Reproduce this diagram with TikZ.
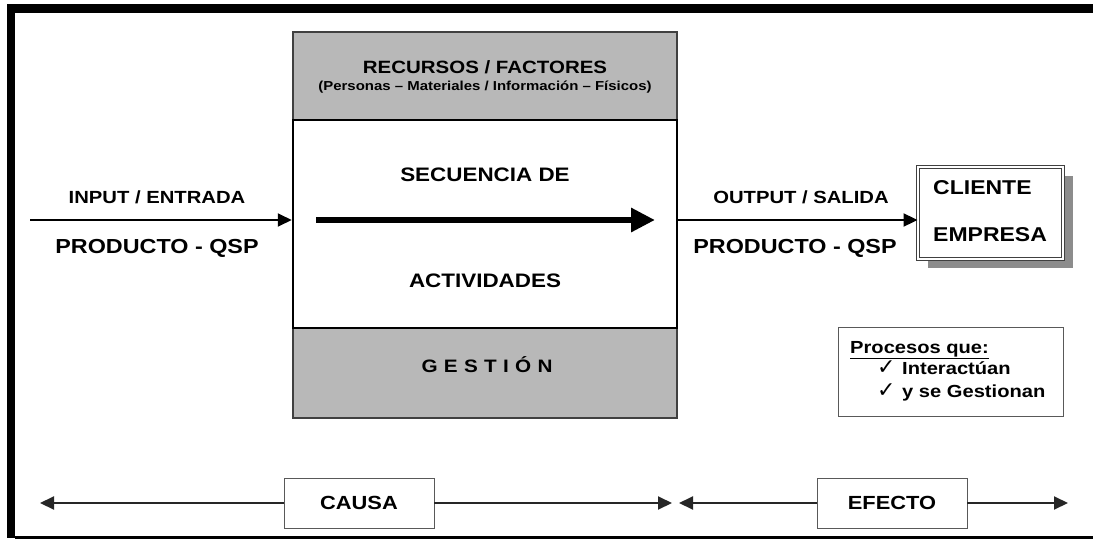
\documentclass[tikz,border=0pt]{standalone}
\usepackage{fontspec}
\setmainfont{Liberation Sans}[FakeStretch=1.15]
\newfontfamily\simbolos{DejaVu Sans}
\usetikzlibrary{arrows.meta,shadows,positioning}

\begin{document}
\begin{tikzpicture}[x=1pt,y=-1pt]
	\tikzstyle{gris}=[draw=black!75, fill=black!28, line width=1.2pt, minimum width=384pt, inner sep=0pt]
	\tikzstyle{blanca}=[draw=black, fill=white, line width=2.5pt, minimum width=384pt, minimum height=208pt, inner sep=0pt]
	\tikzstyle{caja}=[draw=black!65, fill=white, line width=0.8pt, inner sep=0pt]
	\tikzstyle{tx}=[font=\fontsize{19.5}{22}\selectfont\bfseries, inner sep=0pt]
	\tikzstyle{ck}=[font=\fontsize{22}{24}\selectfont\simbolos, inner sep=0pt, anchor=base west]
	\tikzstyle{flecha}=[line width=2pt, -{Triangle[length=14pt,width=13pt]}]
	\tikzstyle{flechita}=[line width=2pt, draw=black!85, -{Triangle[length=14pt,width=13pt]}]

	\useasboundingbox (0,0) rectangle (1093,541);
	% marco
	\fill (7,4) rectangle (1093,13);
	\fill (7,4) rectangle (15,538);
	\fill (15,536) rectangle (1093,538.5);

	% bloque central
	\node[gris, minimum height=88pt] (rec) at (485,76) {};
	\node[gris, minimum height=90pt] (ges) at (485,373) {};
	\node[blanca] (sec) at (485,224) {};
	\node[tx, font=\fontsize{17.8}{20}\selectfont\bfseries] (recT) at (485,67) {RECURSOS / FACTORES};
	\node[tx, font=\fontsize{13}{15}\selectfont\bfseries] (recS) at (485,87) {(Personas – Materiales / Información – Físicos)};
	\node[tx] (secT) at (485,175) {SECUENCIA DE};
	\node[tx] (actT) at (485,281) {ACTIVIDADES};
	\node[tx, font=\fontsize{18}{20}\selectfont\bfseries\addfontfeature{LetterSpace=35}] (gesT) at (487,365) {GESTIÓN};
	\coordinate (a1) at (316,220);
	\coordinate (a2) at (655,220);
	\draw[line width=6pt, -{Triangle[length=24pt,width=23pt]}] (a1) -- (a2);

	% entrada
	\coordinate (inp) at (30,220);
	\node[tx, font=\fontsize{17.6}{20}\selectfont\bfseries] (inT) at (157,197) {INPUT / ENTRADA};
	\node[tx, font=\fontsize{20.3}{22}\selectfont\bfseries] (inP) at (157,248) {PRODUCTO - QSP};

	% salida
	\node[draw=black!75, fill=white, double, double distance=2.5pt, line width=0.9pt,
		minimum width=145pt, minimum height=92pt,
		drop shadow={shadow xshift=10pt, shadow yshift=-9pt, fill=black!45, opacity=1}] (cli) at (990.5,213) {};
	\node[tx, font=\fontsize{20}{22}\selectfont\bfseries, anchor=west] (cliT) at (933,188) {CLIENTE};
	\node[tx, font=\fontsize{20}{22}\selectfont\bfseries, anchor=west] (empT) at (933,235) {EMPRESA};
	\coordinate (outp) at (677,220);
	\node[tx, font=\fontsize{17.6}{20}\selectfont\bfseries] (outT) at (801,197) {OUTPUT / SALIDA};
	\node[tx, font=\fontsize{20.3}{22}\selectfont\bfseries] (outP) at (795,248) {PRODUCTO - QSP};

	\foreach \from/\to in {inp/inp -| sec.west, outp/outp -| cli.west}
		\draw[flecha] (\from) -- (\to);

	% procesos
	\node[caja, minimum width=225pt, minimum height=89pt] (proc) at (950.5,371.5) {};
	\node[tx, font=\fontsize{17.5}{20}\selectfont\bfseries, anchor=base west] (procT) at (850,353) {\underline{Procesos que:}};
	\node[ck] (ck1) at (877,374) {✓};
	\node[tx, font=\fontsize{17.5}{20}\selectfont\bfseries, anchor=base west] (it1) at (902,374) {Interactúan};
	\node[ck] (ck2) at (877,397) {✓};
	\node[tx, font=\fontsize{17.5}{20}\selectfont\bfseries, anchor=base west] (it2) at (902,397) {y se Gestionan};

	% causa / efecto
	\node[caja, minimum width=150pt, minimum height=50pt, font=\fontsize{19}{21}\selectfont\bfseries] (causa) at (359,503) {CAUSA};
	\node[caja, minimum width=150pt, minimum height=50pt, font=\fontsize{19}{21}\selectfont\bfseries] (efecto) at (892,503) {EFECTO};
	\coordinate (l1) at (40,503);
	\coordinate (m1) at (672,503);
	\coordinate (m2) at (679,503);
	\coordinate (r1) at (1068,503);
	\foreach \from/\to in {causa/l1, causa/m1, efecto/m2, efecto/r1}
		\draw[flechita] (\from) -- (\to);
\end{tikzpicture}
\end{document}
